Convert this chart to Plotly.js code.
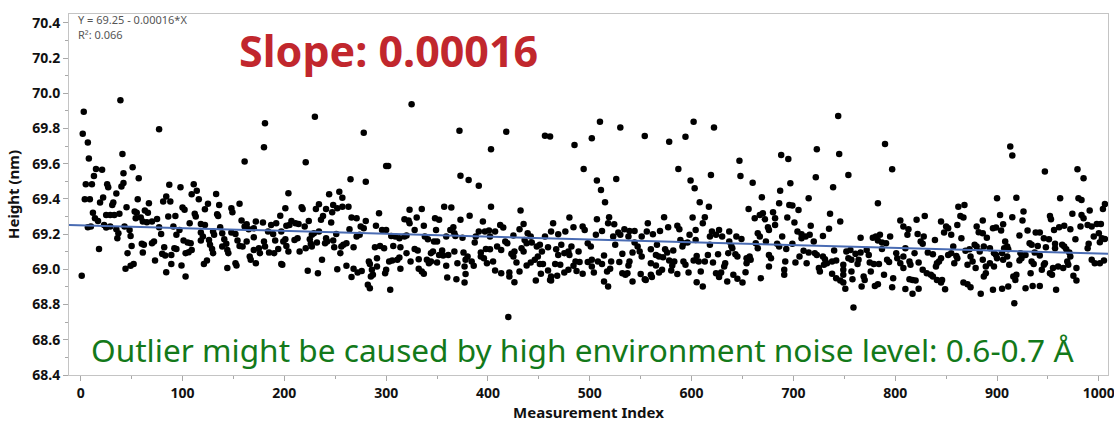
<!DOCTYPE html>
<html>
<head>
<meta charset="utf-8">
<script src="https://cdn.plot.ly/plotly-3.0.1.min.js"></script>
<style>html,body{margin:0;padding:0;background:#fff;}#chart{width:1114px;height:428px;}</style>
</head>
<body>
<div id="chart"></div>
<script>
const seg0to95 = [[39,69.96],[3,69.895],[2,69.77],[7,69.72],[8,69.63],[41,69.655],[77,69.795],[51,69.58],[15,69.57],[21,69.565],[42,69.545],[13,69.53],[57,69.517],[5,69.483],[11,69.483],[26,69.483],[27,69.466],[42,69.49],[40,69.47],[87,69.48],[35,69.43],[4,69.398],[9,69.398],[22,69.408],[19,69.38],[32,69.38],[31,69.366],[56,69.398],[84,69.413],[81,69.385],[88,69.385],[45,69.353],[67,69.375],[12,69.322],[25,69.309],[29,69.309],[33,69.309],[38,69.315],[53,69.328],[55,69.322],[63,69.334],[66,69.322],[86,69.30],[93,69.303],[14,69.29],[17,69.275],[54,69.29],[59,69.294],[61,69.271],[65,69.268],[70,69.271],[75,69.286],[7,69.239],[10,69.243],[23,69.252],[25,69.237],[29,69.243],[35,69.228],[37,69.205],[36,69.177],[48,69.224],[49,69.19],[43,69.243],[77,69.239],[79,69.2],[91,69.243],[94,69.196],[72,69.158],[70,69.148],[50,69.133],[60,69.145],[62,69.139],[18,69.116],[82,69.126],[80,69.088],[83,69.078],[92,69.12],[94,69.115],[46,69.092],[61,69.095],[89,69.082],[73,69.05],[89,69.03],[44,69.003],[49,69.02],[52,69.03],[84,68.984],[1,68.963]];
const seg95to197 = [[181,69.829],[180,69.693],[161,69.613],[98,69.466],[111,69.483],[114,69.447],[109,69.426],[116,69.398],[133,69.428],[125,69.372],[136,69.366],[100,69.351],[102,69.338],[122,69.341],[148,69.347],[149,69.324],[156,69.372],[113,69.30],[112,69.315],[134,69.313],[135,69.303],[107,69.262],[118,69.258],[122,69.252],[158,69.277],[163,69.256],[161,69.243],[172,69.271],[179,69.266],[187,69.252],[192,69.262],[196,69.305],[97,69.224],[118,69.209],[120,69.186],[130,69.215],[131,69.196],[137,69.239],[139,69.205],[148,69.209],[152,69.201],[165,69.228],[170,69.233],[184,69.215],[189,69.201],[101,69.164],[105,69.152],[108,69.148],[118,69.164],[126,69.167],[127,69.139],[141,69.171],[143,69.145],[154,69.164],[156,69.133],[163,69.158],[170,69.182],[180,69.158],[181,69.13],[191,69.164],[194,69.115],[109,69.11],[129,69.116],[130,69.092],[139,69.13],[144,69.11],[145,69.092],[159,69.13],[170,69.11],[175,69.12],[176,69.092],[185,69.095],[190,69.092],[103,69.092],[106,69.097],[166,69.073],[167,69.054],[172,69.035],[124,69.05],[121,69.031],[99,69.022],[152,69.035],[153,69.022],[144,69.007],[197,69.031],[103,68.959]];
const seg197to298 = [[230,69.867],[278,69.776],[221,69.608],[265,69.511],[280,69.498],[204,69.432],[244,69.426],[254,69.441],[257,69.407],[201,69.347],[217,69.353],[218,69.343],[234,69.37],[231,69.343],[241,69.343],[248,69.366],[247,69.324],[252,69.347],[257,69.356],[263,69.356],[238,69.303],[236,69.281],[293,69.318],[266,69.294],[271,69.29],[207,69.275],[211,69.262],[214,69.258],[205,69.252],[202,69.247],[224,69.275],[220,69.243],[246,69.266],[280,69.275],[275,69.243],[278,69.233],[290,69.247],[296,69.224],[264,69.228],[234,69.215],[227,69.196],[229,69.205],[241,69.177],[251,69.201],[271,69.186],[274,69.196],[197,69.215],[201,69.171],[199,69.158],[210,69.167],[213,69.177],[225,69.171],[226,69.145],[232,69.152],[240,69.148],[242,69.158],[248,69.164],[249,69.126],[258,69.139],[261,69.148],[256,69.13],[268,69.126],[202,69.133],[204,69.101],[215,69.101],[221,69.12],[227,69.13],[255,69.092],[289,69.126],[294,69.133],[298,69.12],[291,69.063],[237,69.054],[198,69.026],[283,69.045],[284,69.031],[291,69.016],[261,69.02],[252,69.0],[223,68.992],[233,68.978],[268,69.003],[272,68.982],[276,68.991],[286,68.997],[287,68.969],[285,68.959],[266,68.956],[282,68.912],[284,68.893]];
const seg298to402 = [[325,69.937],[372,69.787],[300,69.587],[302,69.587],[373,69.532],[381,69.508],[391,69.475],[323,69.338],[335,69.343],[357,69.356],[364,69.351],[330,69.294],[318,69.284],[322,69.277],[323,69.262],[348,69.29],[352,69.281],[373,69.281],[382,69.305],[395,69.271],[337,69.247],[328,69.224],[366,69.239],[363,69.224],[349,69.224],[391,69.215],[388,69.186],[387,69.152],[397,69.215],[401,69.22],[300,69.224],[305,69.19],[309,69.186],[313,69.177],[318,69.186],[320,69.192],[338,69.186],[341,69.171],[359,69.186],[367,69.205],[368,69.19],[375,69.18],[347,69.158],[350,69.158],[314,69.126],[307,69.133],[328,69.115],[331,69.107],[355,69.107],[367,69.101],[398,69.115],[393,69.095],[320,69.092],[344,69.092],[346,69.101],[352,69.082],[356,69.078],[361,69.082],[376,69.095],[303,69.045],[306,69.05],[311,69.054],[313,69.067],[324,69.045],[332,69.058],[340,69.054],[342,69.035],[344,69.045],[350,69.039],[370,69.035],[378,69.054],[380,69.073],[384,69.045],[386,69.02],[393,69.073],[396,69.063],[399,69.035],[359,69.02],[332,69.003],[335,68.988],[337,68.975],[314,69.003],[300,68.997],[299,68.978],[377,69.016],[360,68.954],[369,68.944],[378,68.973],[377,68.925],[304,68.884]];
const seg402to502 = [[418,69.782],[403,69.682],[456,69.759],[461,69.755],[485,69.706],[502,69.744],[494,69.57],[403,69.356],[432,69.334],[480,69.294],[407,69.215],[412,69.252],[415,69.237],[435,69.258],[431,69.228],[464,69.262],[493,69.243],[495,69.224],[484,69.239],[476,69.215],[469,69.199],[462,69.215],[439,69.205],[442,69.186],[456,69.186],[425,69.192],[402,69.186],[417,69.158],[419,69.148],[436,69.167],[438,69.148],[443,69.152],[451,69.139],[448,69.13],[459,69.126],[472,69.139],[482,69.13],[498,69.148],[501,69.13],[409,69.13],[413,69.11],[433,69.12],[435,69.101],[402,69.114],[423,69.088],[426,69.101],[425,69.073],[453,69.101],[467,69.114],[469,69.082],[475,69.092],[479,69.101],[480,69.082],[489,69.101],[449,69.073],[405,69.045],[428,69.039],[442,69.039],[438,69.022],[446,69.054],[451,69.031],[454,69.031],[466,69.031],[471,69.026],[484,69.02],[486,69.045],[490,69.041],[498,69.041],[502,69.016],[431,68.988],[407,68.993],[413,68.978],[421,68.982],[421,68.959],[426,68.927],[452,68.975],[459,68.993],[462,68.959],[461,68.94],[462,68.937],[468,68.963],[475,68.982],[479,68.997],[487,68.991],[493,68.975],[447,68.937],[420,68.729]];
const seg502to605 = [[510,69.838],[530,69.806],[554,69.757],[578,69.725],[594,69.753],[602,69.838],[587,69.57],[507,69.504],[511,69.451],[526,69.513],[515,69.381],[599,69.504],[603,69.46],[507,69.284],[519,69.296],[518,69.262],[524,69.256],[573,69.296],[557,69.262],[601,69.294],[577,69.239],[586,69.247],[588,69.228],[512,69.218],[534,69.228],[539,69.218],[544,69.218],[569,69.218],[506,69.196],[523,69.186],[528,69.209],[530,69.196],[551,69.186],[556,69.215],[562,69.199],[538,69.186],[598,69.196],[604,69.224],[589,69.167],[592,69.148],[591,69.13],[596,69.152],[544,69.152],[547,69.13],[525,69.139],[566,69.139],[574,69.114],[576,69.095],[542,69.095],[549,69.101],[551,69.073],[560,69.114],[582,69.107],[514,69.078],[532,69.088],[565,69.082],[568,69.073],[572,69.069],[605,69.076],[502,69.054],[508,69.045],[512,69.031],[521,69.045],[529,69.041],[539,69.045],[538,69.022],[560,69.035],[565,69.022],[578,69.05],[583,69.045],[581,69.022],[592,69.045],[594,69.026],[602,69.05],[517,68.988],[520,69.003],[504,68.982],[532,68.978],[535,68.969],[537,68.978],[550,68.973],[554,68.944],[555,68.94],[560,68.969],[561,68.956],[568,68.982],[571,68.997],[580,68.993],[586,68.973],[597,68.982],[542,68.931],[514,68.931],[518,68.903],[605,68.927]];
const seg605to708 = [[622,69.806],[647,69.617],[648,69.53],[619,69.536],[660,69.492],[688,69.65],[695,69.627],[697,69.489],[687,69.447],[608,69.381],[617,69.356],[669,69.409],[656,69.343],[686,69.375],[696,69.366],[699,69.362],[705,69.337],[667,69.309],[670,69.318],[662,69.29],[672,69.284],[680,69.324],[682,69.29],[694,69.294],[701,69.266],[613,69.296],[611,69.262],[675,69.239],[676,69.224],[682,69.252],[620,69.215],[624,69.196],[627,69.224],[630,69.186],[637,69.215],[618,69.186],[644,69.186],[649,69.173],[665,69.205],[667,69.186],[689,69.186],[704,69.215],[708,69.177],[604,69.167],[618,69.139],[637,69.158],[639,69.133],[640,69.12],[663,69.148],[665,69.12],[673,69.158],[684,69.145],[686,69.13],[693,69.116],[699,69.145],[706,69.073],[616,69.082],[626,69.086],[636,69.092],[643,69.086],[645,69.073],[654,69.063],[657,69.073],[658,69.054],[676,69.082],[678,69.063],[607,69.045],[613,69.045],[621,69.039],[633,69.035],[632,69.016],[654,69.035],[702,69.039],[692,69.045],[676,69.016],[609,68.988],[624,68.978],[627,68.969],[629,68.982],[627,68.956],[653,68.984],[641,68.969],[691,68.997],[691,68.969],[645,68.946],[650,68.925],[635,68.931],[668,68.95],[611,68.903]];
const seg708to810 = [[744,69.871],[723,69.682],[745,69.655],[790,69.712],[722,69.523],[754,69.536],[739,69.466],[797,69.568],[715,69.404],[783,69.375],[736,69.315],[746,69.271],[805,69.277],[808,69.243],[717,69.247],[735,69.23],[708,69.199],[712,69.186],[716,69.196],[729,69.19],[720,69.158],[766,69.18],[778,69.18],[781,69.186],[785,69.196],[783,69.164],[787,69.152],[795,69.186],[791,69.148],[710,69.105],[715,69.095],[721,69.092],[723,69.082],[740,69.107],[752,69.101],[756,69.11],[761,69.088],[766,69.095],[772,69.11],[774,69.082],[787,69.116],[801,69.092],[808,69.073],[713,69.035],[729,69.073],[731,69.058],[733,69.035],[730,69.026],[738,69.045],[742,69.05],[749,69.026],[749,68.997],[754,69.063],[757,69.054],[763,69.031],[764,69.054],[775,69.039],[779,69.031],[784,69.031],[792,69.054],[794,69.041],[802,69.063],[805,69.035],[808,69.007],[725,69.007],[726,68.988],[738,68.975],[742,68.95],[746,68.937],[749,68.925],[749,68.969],[757,68.988],[758,68.944],[769,68.959],[770,68.94],[767,68.903],[776,68.988],[780,68.906],[783,68.916],[789,68.969],[797,68.899],[798,68.95],[810,68.888],[751,68.89],[759,68.783]];
const seg810to912 = [[900,69.404],[862,69.356],[868,69.366],[864,69.303],[867,69.294],[903,69.309],[821,69.281],[829,69.303],[845,69.271],[861,69.252],[850,69.243],[852,69.233],[880,69.243],[886,69.277],[896,69.233],[899,69.237],[906,69.256],[813,69.228],[812,69.196],[822,69.201],[828,69.186],[848,69.209],[855,69.196],[882,69.211],[886,69.205],[904,69.22],[890,69.18],[865,69.177],[839,69.167],[825,69.158],[827,69.145],[878,69.139],[880,69.13],[857,69.13],[869,69.105],[873,69.114],[887,69.13],[883,69.101],[893,69.12],[897,69.092],[907,69.12],[910,69.13],[810,69.12],[819,69.092],[832,69.095],[837,69.086],[845,69.063],[843,69.045],[852,69.082],[855,69.092],[860,69.076],[861,69.063],[858,69.035],[874,69.073],[876,69.045],[886,69.054],[889,69.016],[893,69.035],[899,69.082],[900,69.063],[906,69.054],[912,69.026],[814,69.045],[815,69.026],[823,69.039],[840,69.016],[841,69.035],[871,69.026],[879,69.007],[897,69.016],[827,68.997],[831,68.978],[835,68.969],[837,68.959],[841,68.94],[845,68.925],[846,68.94],[889,68.978],[887,68.959],[814,68.944],[817,68.94],[820,68.937],[849,68.887],[867,68.925],[871,68.916],[874,68.899],[817,68.861],[823,68.89],[884,68.861],[896,68.884],[905,68.89],[911,68.903]];
const seg912to1006 = [[913,69.697],[915,69.646],[947,69.555],[979,69.568],[985,69.517],[919,69.407],[962,69.404],[980,69.404],[983,69.394],[1006,69.371],[1004,69.343],[991,69.334],[915,69.296],[926,69.328],[925,69.277],[952,69.303],[953,69.284],[974,69.315],[983,69.309],[985,69.29],[982,69.243],[989,69.252],[993,69.243],[998,69.258],[1002,69.258],[961,69.239],[966,69.247],[972,69.228],[956,69.224],[930,69.22],[938,69.209],[942,69.209],[908,69.158],[922,69.192],[946,69.177],[951,69.171],[977,69.171],[995,69.186],[1000,69.205],[1003,69.177],[1006,69.173],[1001,69.154],[990,69.145],[989,69.12],[932,69.148],[934,69.139],[940,69.133],[948,69.126],[957,69.145],[957,69.12],[964,69.139],[966,69.13],[968,69.114],[911,69.114],[923,69.092],[928,69.082],[937,69.095],[942,69.078],[971,69.095],[972,69.073],[905,69.092],[910,69.073],[922,69.05],[924,69.063],[934,69.045],[936,69.031],[947,69.035],[946,69.026],[955,69.007],[960,69.016],[965,69.007],[969,69.045],[970,69.026],[978,69.007],[993,69.054],[996,69.035],[1001,69.035],[1005,69.05],[944,68.997],[952,68.978],[954,68.969],[975,68.963],[978,68.937],[916,68.959],[918,68.94],[919,68.969],[933,68.978],[928,68.893],[935,68.906],[942,68.906],[958,68.884],[917,68.808]];

// fitted line as printed on the chart: Y = 69.25 - 0.00016*X
const fitIntercept = 69.25;
const fitSlope = -0.00016;
const fitLabel = "Y = 69.25 - 0.00016*X";
const r2Label = "R\u00b2: 0.066";
const slopeLabel = "Slope: 0.00016";
const noteLabel = "Outlier might be caused by high environment noise level: 0.6-0.7 \u00c5";
const xTicks = [0,100,200,300,400,500,600,700,800,900,1000];
const yTicks = [68.4,68.6,68.8,69.0,69.2,69.4,69.6,69.8,70.0,70.2,70.4];

const pts = [].concat(seg0to95, seg95to197, seg197to298, seg298to402, seg402to502,
                      seg502to605, seg605to708, seg708to810, seg810to912, seg912to1006);
const xs = pts.map(p => p[0]);
const ys = pts.map(p => p[1]);

const xRange = [-11.5, 1009];
const yRange = [68.4, 70.45];
const fitX = xRange.slice();
const fitY = fitX.map(x => fitIntercept + fitSlope * x);

const FONT = "Noto Sans, Open Sans, DejaVu Sans, sans-serif";

const traces = [
  {x: xs, y: ys, type: 'scatter', mode: 'markers',
   marker: {color: '#000000', size: 6.5, line: {width: 0}}, hoverinfo: 'x+y'},
  {x: fitX, y: fitY, type: 'scatter', mode: 'lines',
   line: {color: '#4a6cb3', width: 2}, hoverinfo: 'skip'}
];

const axisCommon = {
  showgrid: false, zeroline: false, showline: true, mirror: true,
  linecolor: '#c4c4c4', linewidth: 1,
  ticks: 'outside', ticklen: 5, tickcolor: '#a8a8a8', tickwidth: 1,
  ticklabeloverflow: 'allow',
  tickfont: {family: FONT, size: 14, color: '#111', weight: 'bold'}
};

const layout = {
  width: 1114, height: 428,
  margin: {l: 69, r: 6, t: 14, b: 53},
  paper_bgcolor: '#ffffff', plot_bgcolor: '#ffffff',
  showlegend: false,
  xaxis: Object.assign({}, axisCommon, {
    range: xRange, tickmode: 'array', tickvals: xTicks, ticktext: xTicks.map(String),
    minor: {dtick: 50, tick0: 0, ticks: 'outside', ticklen: 3, tickcolor: '#a8a8a8'},
    title: {text: 'Measurement Index', standoff: 4,
            font: {family: FONT, size: 15, color: '#111', weight: 'bold'}},
    automargin: false
  }),
  yaxis: Object.assign({}, axisCommon, {
    range: yRange, tickmode: 'array', tickvals: yTicks, ticktext: yTicks.map(v => v.toFixed(1)),
    minor: {dtick: 0.1, tick0: 68.4, ticks: 'outside', ticklen: 3, tickcolor: '#a8a8a8'},
    title: {text: 'Height (nm)', standoff: 8,
            font: {family: FONT, size: 15, color: '#111', weight: 'bold'}},
    automargin: false
  }),
  annotations: [
    {xref: 'paper', yref: 'paper', x: 0.0067, y: 0.986, xanchor: 'left', yanchor: 'middle',
     text: fitLabel, showarrow: false, font: {family: FONT, size: 11, color: '#555'}},
    {xref: 'paper', yref: 'paper', x: 0.0067, y: 0.942, xanchor: 'left', yanchor: 'middle',
     text: r2Label, showarrow: false, font: {family: FONT, size: 11, color: '#555'}},
    {xref: 'paper', yref: 'paper', x: 0.1617, y: 0.899, xanchor: 'left', yanchor: 'middle',
     text: slopeLabel, showarrow: false,
     font: {family: FONT, size: 43, color: '#c1272d', weight: 'bold'}},
    {xref: 'paper', yref: 'paper', x: 0.019, y: 0.072, xanchor: 'left', yanchor: 'middle',
     text: noteLabel, showarrow: false, font: {family: FONT, size: 31.6, color: '#13791a'}}
  ]
};

Plotly.newPlot('chart', traces, layout, {displayModeBar: false, staticPlot: true});
</script>
</body>
</html>
